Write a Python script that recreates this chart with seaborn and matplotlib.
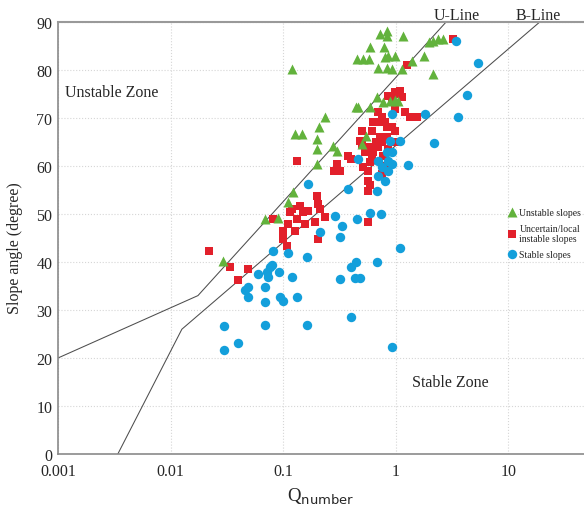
import pandas as pd
import seaborn as sns
import matplotlib.pyplot as plt
from matplotlib.ticker import NullLocator

# %% DATA

unstable_q = [0.0293, 0.069, 0.090, 0.111, 0.122, 0.120, 0.128, 0.148, 0.200, 0.200,
              0.200, 0.209, 0.236, 0.278, 0.302, 0.446, 0.465, 0.595, 0.686, 0.777,
              0.895, 0.99, 1.05, 0.547, 0.504, 0.728, 0.839, 0.839, 1.17, 0.595,
              0.793, 0.455, 0.516, 0.582, 0.809, 0.857, 0.99, 0.70, 0.839, 0.934,
              1.14, 1.40, 1.79, 1.99, 2.15, 2.39, 2.64, 2.15]
unstable_angle = [40.2, 49.0, 49.2, 52.5, 54.6, 80.2, 66.7, 66.7, 60.4, 63.5,
                  65.6, 68.1, 70.2, 64.2, 63.1, 72.3, 72.3, 72.3, 74.4, 73.3,
                  73.5, 73.75, 73.5, 66.25, 64.6, 87.5, 88.1, 87.1, 87.1, 84.8,
                  84.8, 82.3, 82.3, 82.3, 82.7, 82.9, 82.9, 80.4, 80.4, 80.2,
                  80.2, 81.9, 82.9, 85.8, 86.0, 86.5, 86.5, 79.2]

uncertain_q = [0.022, 0.0338, 0.0398, 0.0489, 0.0815, 0.100, 0.100, 0.108, 0.115, 0.120,
               0.133, 0.142, 0.150, 0.157, 0.167, 0.128, 0.111, 0.192, 0.200, 0.205,
               0.213, 0.236, 0.205, 0.133, 0.284, 0.321, 0.302, 0.397,
               0.99, 1.10, 0.857, 0.934, 1.03, 1.14, 0.99, 1.21, 1.35, 1.55,
               0.70, 0.76, 0.634, 0.728, 0.809, 0.839, 0.934, 0.621, 0.504, 0.99,
               0.728, 0.839, 0.661, 0.76, 0.99, 0.484, 0.595, 0.70, 0.857, 0.537,
               0.634, 0.777, 0.621, 0.595, 0.378, 0.516, 0.570, 0.839, 0.76, 0.570,
               0.595, 0.570, 0.570, 1.27, 3.20, 0.504]
uncertain_angle = [42.3, 39.0, 36.25, 38.5, 49.0, 46.5, 44.8, 43.3, 50.4, 51.0,
                   49.0, 51.7, 50.4, 47.9, 50.6, 46.5, 47.9, 48.3, 53.75, 52.1,
                   51.0, 49.4, 44.8, 61.0, 59.0, 59.0, 60.4, 61.5,
                   75.4, 75.6, 74.6, 74.0, 75.0, 74.4, 71.9, 71.25, 70.2, 70.2,
                   71.25, 70.2, 69.2, 69.2, 69.2, 68.1, 68.1, 67.3, 67.3, 67.3,
                   66.0, 66.0, 65.0, 65.0, 65.0, 65.2, 64.0, 64.0, 63.5, 62.9,
                   62.9, 62.1, 61.5, 60.8, 62.1, 59.8, 59.0, 60.0, 58.3, 56.9,
                   56.0, 54.8, 48.3, 81.0, 86.5, 64.6]

stable_q = [0.030, 0.030, 0.0398, 0.069, 0.060, 0.0489, 0.0459, 0.0489, 0.069, 0.069,
            0.072, 0.0765, 0.080, 0.0737, 0.092, 0.0815, 0.111, 0.120, 0.094, 0.100,
            0.133, 0.163, 0.163, 0.321, 0.397, 0.446, 0.436, 0.484, 0.686, 0.397,
            0.934, 1.10, 0.167, 0.290, 0.335, 0.321, 0.213, 0.378, 0.455, 0.934,
            1.29, 0.809, 0.70, 0.686, 0.595, 0.744, 3.45, 5.41, 4.32, 3.6,
            2.2, 1.83, 0.934, 1.10, 0.895, 0.839, 0.934, 0.70, 0.857, 0.465,
            0.76, 0.857]
stable_angle = [26.7, 21.7, 23.1, 26.9, 37.5, 34.8, 34.2, 32.7, 31.7, 34.8,
                37.9, 39.0, 39.4, 36.9, 37.9, 42.3, 41.9, 36.9, 32.7, 31.9,
                32.7, 41.0, 26.9, 36.5, 39.0, 40.0, 36.7, 36.7, 40.0, 28.5,
                22.3, 42.9, 56.25, 49.6, 47.5, 45.2, 46.25, 55.2, 49.0, 60.4,
                60.2, 56.9, 57.9, 54.8, 50.2, 50.0, 86.0, 81.5, 74.8, 70.2,
                64.8, 70.8, 70.8, 65.2, 65.2, 62.9, 62.9, 61.0, 61.0, 61.5,
                59.8, 59.0]

# boundary lines (Q, slope angle)
u_line_q = [0.001, 0.0175, 2.8]
u_line_angle = [20, 33, 90]
b_line_q = [0.0034, 0.0126, 19]
b_line_angle = [0, 26, 90]

x_ticks = [0.001, 0.01, 0.1, 1, 10]
x_tick_labels = ['0.001', '0.01', '0.1', '1', '10']
y_ticks = [0, 10, 20, 30, 40, 50, 60, 70, 80, 90]

classes = ['Unstable slopes', 'Uncertain/local\ninstable slopes', 'Stable slopes']

data = pd.concat([
    pd.DataFrame({'Q': unstable_q, 'Angle': unstable_angle, 'Class': classes[0]}),
    pd.DataFrame({'Q': uncertain_q, 'Angle': uncertain_angle, 'Class': classes[1]}),
    pd.DataFrame({'Q': stable_q, 'Angle': stable_angle, 'Class': classes[2]}),
])

# %% PLOT

sns.set_style('white')
plt.rcParams['font.family'] = 'serif'
plt.rcParams['font.serif'] = ['Liberation Serif', 'DejaVu Serif']

fig = plt.figure(figsize=(5.84, 5.06), dpi=100)
ax = fig.add_axes([0.0993, 0.1008, 0.9007, 0.8537])

ax.plot(u_line_q, u_line_angle, color='#4d4d4d', lw=0.75, zorder=1)
ax.plot(b_line_q, b_line_angle, color='#4d4d4d', lw=0.75, zorder=1)

styles = {
    classes[1]: ('s', 38, '#e2202b'),
    classes[2]: ('o', 46, '#139fdb'),
    classes[0]: ('^', 52, '#62b23c'),
}
for cls, (marker, size, colour) in styles.items():
    sns.scatterplot(
        data=data[data['Class'] == cls],
        x='Q',
        y='Angle',
        marker=marker,
        s=size,
        color=colour,
        linewidth=0,
        label=cls,
        ax=ax,
        zorder=3,
    )

ax.set_xscale('log')
ax.set(xlim=(0.001, 47), ylim=(0, 90))
ax.set_xticks(x_ticks)
ax.set_xticklabels(x_tick_labels)
ax.xaxis.set_minor_locator(NullLocator())
ax.set_yticks(y_ticks)
ax.tick_params(axis='both', length=0, labelsize=11.5)
ax.tick_params(axis='x', pad=6.5)
ax.tick_params(axis='y', pad=4)

ax.grid(True, color='#d6d6d6', linestyle=':', linewidth=0.8)
ax.set_axisbelow(True)
for side in ['left', 'bottom']:
    ax.spines[side].set_color('#8a8a8a')
    ax.spines[side].set_linewidth(1.2)
ax.spines['top'].set_color('#999999')
ax.spines['top'].set_linewidth(1.5)
ax.spines['right'].set_visible(False)

ax.set_ylabel('Slope angle (degree)', fontsize=11.5)
ax.yaxis.set_label_coords(-0.066, 0.48)
ax.set_xlabel(r'Q$_{\mathsf{number}}$', fontsize=13.5)
ax.xaxis.set_label_coords(0.5, -0.074)

ax.text(3.52, 91.5, 'U-Line', fontsize=11.5, ha='center', va='center', clip_on=False)
ax.text(18.5, 91.5, 'B-Line', fontsize=11.5, ha='center', va='center', clip_on=False)
ax.text(0.00115, 75.4, 'Unstable Zone', fontsize=11.5, ha='left', va='center')
ax.text(1.40, 15.0, 'Stable Zone', fontsize=11.5, ha='left', va='center')

handles, labels = ax.get_legend_handles_labels()
order = [labels.index(c) for c in classes]
ax.legend(
    [handles[i] for i in order],
    [labels[i] for i in order],
    loc='upper left',
    bbox_to_anchor=(0.853, 0.57),
    frameon=False,
    fontsize=7,
    handlelength=1.0,
    handletextpad=0.3,
    labelspacing=0.7,
    borderaxespad=0,
    borderpad=0,
)

plt.savefig('out.png', dpi=100)
